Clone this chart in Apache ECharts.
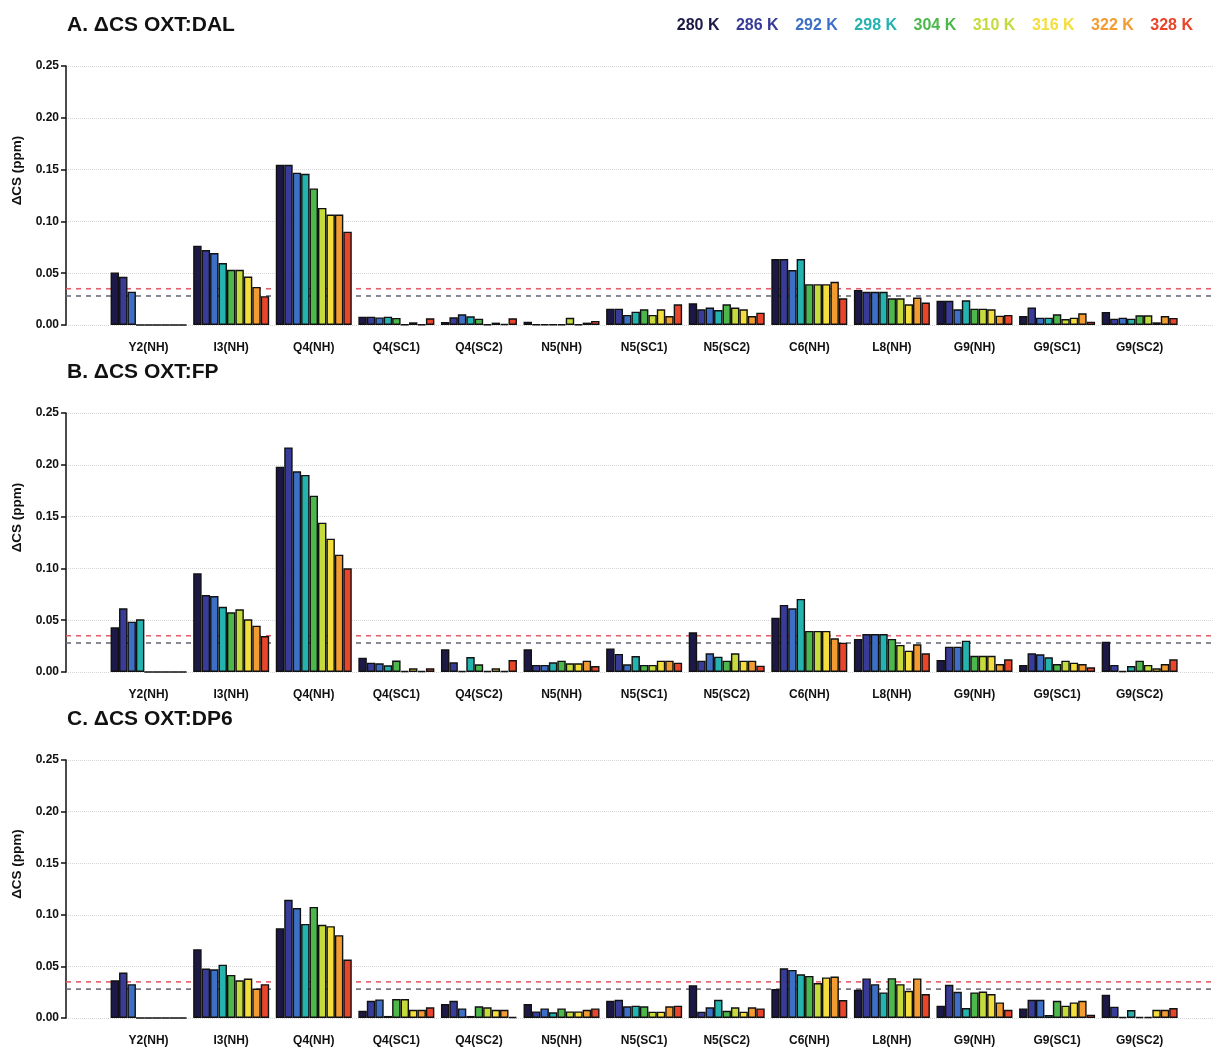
<!DOCTYPE html>
<html>
<head>
<meta charset="utf-8">
<script src="https://cdn.jsdelivr.net/npm/echarts@6/dist/echarts.min.js"></script>
<style>
  html, body { margin: 0; padding: 0; background: #ffffff; }
  #chart { width: 1217px; height: 1047px; }
</style>
</head>
<body>
<div id="chart"></div>
<script>
// ---------- data ----------
const categories = ['Y2(NH)', 'I3(NH)', 'Q4(NH)', 'Q4(SC1)', 'Q4(SC2)', 'N5(NH)', 'N5(SC1)', 'N5(SC2)', 'C6(NH)', 'L8(NH)', 'G9(NH)', 'G9(SC1)', 'G9(SC2)'];
const temperatures = ['280 K', '286 K', '292 K', '298 K', '304 K', '310 K', '316 K', '322 K', '328 K'];
const panelTitles = ['A. \u0394CS OXT:DAL', 'B. \u0394CS OXT:FP', 'C. \u0394CS OXT:DP6'];
const yTicks = [0, 0.05, 0.10, 0.15, 0.20, 0.25];
const thresholdRed = 0.035;
const thresholdGray = 0.028;

// rows = categories (same order as above), columns = temperatures 280 K ... 328 K
const dalValues = [
  [0.0507, 0.0465, 0.0322, 0, 0, 0, 0, 0, 0],
  [0.0766, 0.0724, 0.0695, 0.0598, 0.0533, 0.0533, 0.0468, 0.0368, 0.0278],
  [0.1547, 0.1547, 0.1470, 0.1460, 0.1318, 0.1130, 0.1066, 0.1066, 0.0901],
  [0.0080, 0.0080, 0.0073, 0.0080, 0.0068, 0.0005, 0.0026, 0.0005, 0.0065],
  [0.0030, 0.0074, 0.0103, 0.0084, 0.0061, 0.0005, 0.0023, 0.0010, 0.0065],
  [0.0032, 0.0005, 0.0005, 0.0005, 0.0005, 0.0070, 0.0005, 0.0023, 0.0039],
  [0.0158, 0.0158, 0.0097, 0.0129, 0.0152, 0.0097, 0.0152, 0.0087, 0.0200],
  [0.0210, 0.0152, 0.0168, 0.0145, 0.0200, 0.0168, 0.0152, 0.0087, 0.0119],
  [0.0636, 0.0636, 0.0530, 0.0636, 0.0394, 0.0394, 0.0394, 0.0417, 0.0258],
  [0.0339, 0.0320, 0.0320, 0.0320, 0.0258, 0.0258, 0.0200, 0.0265, 0.0216],
  [0.0233, 0.0233, 0.0152, 0.0239, 0.0158, 0.0158, 0.0152, 0.0090, 0.0097],
  [0.0087, 0.0168, 0.0071, 0.0071, 0.0103, 0.0058, 0.0071, 0.0113, 0.0032],
  [0.0126, 0.0061, 0.0071, 0.0061, 0.0094, 0.0094, 0.0026, 0.0087, 0.0068]
];
const fpValues = [
  [0.0431, 0.0615, 0.0486, 0.0508, 0, 0, 0, 0, 0],
  [0.0952, 0.0743, 0.0733, 0.0630, 0.0576, 0.0605, 0.0508, 0.0447, 0.0347],
  [0.1982, 0.2168, 0.1937, 0.1902, 0.1702, 0.1441, 0.1287, 0.1132, 0.1001],
  [0.0138, 0.0090, 0.0084, 0.0064, 0.0111, 0.0010, 0.0035, 0.0010, 0.0035],
  [0.0219, 0.0093, 0.0010, 0.0145, 0.0074, 0.0010, 0.0035, 0.0010, 0.0116],
  [0.0219, 0.0068, 0.0068, 0.0093, 0.0109, 0.0084, 0.0084, 0.0109, 0.0058],
  [0.0228, 0.0174, 0.0074, 0.0154, 0.0068, 0.0068, 0.0109, 0.0109, 0.0090],
  [0.0383, 0.0109, 0.0180, 0.0148, 0.0109, 0.0180, 0.0109, 0.0109, 0.0061],
  [0.0524, 0.0647, 0.0615, 0.0705, 0.0396, 0.0396, 0.0396, 0.0325, 0.0283],
  [0.0319, 0.0367, 0.0367, 0.0367, 0.0319, 0.0261, 0.0206, 0.0267, 0.0180],
  [0.0116, 0.0244, 0.0244, 0.0302, 0.0157, 0.0157, 0.0157, 0.0077, 0.0122],
  [0.0068, 0.0180, 0.0171, 0.0142, 0.0077, 0.0109, 0.0090, 0.0077, 0.0045],
  [0.0293, 0.0068, 0.0010, 0.0058, 0.0109, 0.0068, 0.0035, 0.0077, 0.0122]
];
const dp6Values = [
  [0.0366, 0.0440, 0.0328, 0, 0, 0, 0, 0, 0],
  [0.0665, 0.0479, 0.0472, 0.0517, 0.0417, 0.0366, 0.0382, 0.0286, 0.0328],
  [0.0870, 0.1146, 0.1066, 0.0912, 0.1076, 0.0903, 0.0890, 0.0803, 0.0566],
  [0.0070, 0.0167, 0.0180, 0.0020, 0.0183, 0.0183, 0.0080, 0.0080, 0.0103],
  [0.0135, 0.0167, 0.0093, 0.0020, 0.0113, 0.0103, 0.0080, 0.0080, 0.0010],
  [0.0135, 0.0064, 0.0093, 0.0055, 0.0093, 0.0064, 0.0064, 0.0080, 0.0093],
  [0.0167, 0.0177, 0.0113, 0.0119, 0.0113, 0.0061, 0.0061, 0.0113, 0.0119],
  [0.0318, 0.0061, 0.0103, 0.0177, 0.0070, 0.0103, 0.0061, 0.0103, 0.0093],
  [0.0280, 0.0482, 0.0466, 0.0424, 0.0408, 0.0338, 0.0393, 0.0402, 0.0174],
  [0.0273, 0.0383, 0.0328, 0.0248, 0.0386, 0.0328, 0.0263, 0.0383, 0.0232],
  [0.0119, 0.0321, 0.0254, 0.0096, 0.0248, 0.0257, 0.0232, 0.0151, 0.0080],
  [0.0093, 0.0177, 0.0177, 0.0030, 0.0167, 0.0119, 0.0151, 0.0167, 0.0032],
  [0.0225, 0.0110, 0.0010, 0.0077, 0.0010, 0.0010, 0.0080, 0.0080, 0.0096]
];
const panels = [dalValues, fpValues, dp6Values];

// ---------- style ----------
const colors = ['#1c1946', '#383c98', '#3d6fc6', '#25b3b0', '#4cb84b', '#c5db3c', '#f4de3b', '#f29b31', '#e8452b'];
const FONT = '"Liberation Sans", Arial, Helvetica, sans-serif';
const INK = '#111111';
const gridTops = [66, 413, 760];
const gridHeight = 259;
const X_MIN = 0, X_MAX = 13.9;

const chart = echarts.init(document.getElementById('chart'), null, { renderer: 'canvas' });

const grids = [], xAxes = [], yAxes = [], titles = [], series = [];
panels.forEach((vals, p) => {
  grids.push({ left: 66, right: 0, top: gridTops[p], height: gridHeight, containLabel: false });
  titles.push({
    text: panelTitles[p], left: 67, top: gridTops[p] - 51, padding: 0,
    textStyle: { fontFamily: FONT, fontWeight: 'bold', fontSize: 21, color: INK }
  });
  xAxes.push({
    gridIndex: p, type: 'value', min: X_MIN, max: X_MAX, interval: 1,
    axisLine: { show: false }, axisTick: { show: false }, splitLine: { show: false },
    axisLabel: {
      margin: 17, fontFamily: FONT, fontWeight: 'bold', fontSize: 12, color: INK,
      showMinLabel: true, showMaxLabel: true,
      formatter: function (v) { return (Number.isInteger(v) && categories[v - 1]) ? categories[v - 1] : ''; }
    }
  });
  yAxes.push({
    gridIndex: p, type: 'value', min: yTicks[0], max: yTicks[yTicks.length - 1], interval: 0.05,
    name: '\u0394CS (ppm)', nameLocation: 'middle', nameGap: 42, nameRotate: 90,
    nameTextStyle: { fontFamily: FONT, fontWeight: 'bold', fontSize: 13.5, color: INK, padding: [0, 0, 0, 50] },
    axisLine: { show: true, lineStyle: { color: INK, width: 1.5 } },
    axisTick: { show: true, length: 5, lineStyle: { color: INK, width: 1.5 } },
    axisLabel: { margin: 7, fontFamily: FONT, fontWeight: 'bold', fontSize: 12, color: INK,
      formatter: function (v) { return v.toFixed(2); } },
    splitLine: { show: true, lineStyle: { color: '#d6d6d6', type: 'dotted', width: 1 } }
  });
  // threshold lines (behind the bars)
  [[thresholdRed, '#e0606c'], [thresholdGray, '#6c6c78']].forEach(([v, c], j) => {
    series.push({
      type: 'line', name: 'threshold' + p + '_' + j, xAxisIndex: p, yAxisIndex: p, z: 1,
      symbol: 'none', silent: true, clip: true,
      lineStyle: { color: c, type: [5, 5], width: 1.6 },
      data: [[X_MIN, v], [X_MAX, v]]
    });
  });
  temperatures.forEach((t, k) => {
    series.push({
      type: 'bar', name: t, xAxisIndex: p, yAxisIndex: p, z: 3,
      barCategoryGap: '8%', barGap: '0%',
      itemStyle: { color: colors[k], borderColor: INK, borderWidth: 1.4 },
      emphasis: { disabled: true },
      data: categories.map((c, i) => [i + 1, vals[i][k]])
    });
  });
});

chart.setOption({
  animation: false,
  backgroundColor: '#ffffff',
  title: titles,
  legend: {
    top: 18, right: 24, padding: 0, itemWidth: 0, itemHeight: 0, itemGap: 10.5,
    selectedMode: false,
    textStyle: { fontFamily: FONT, fontWeight: 'bold', fontSize: 16 },
    data: temperatures.map((t, k) => ({ name: t, icon: 'rect', textStyle: { color: colors[k], fontFamily: FONT, fontWeight: 'bold', fontSize: 16 } }))
  },
  grid: grids,
  xAxis: xAxes,
  yAxis: yAxes,
  series: series
});
</script>
</body>
</html>
